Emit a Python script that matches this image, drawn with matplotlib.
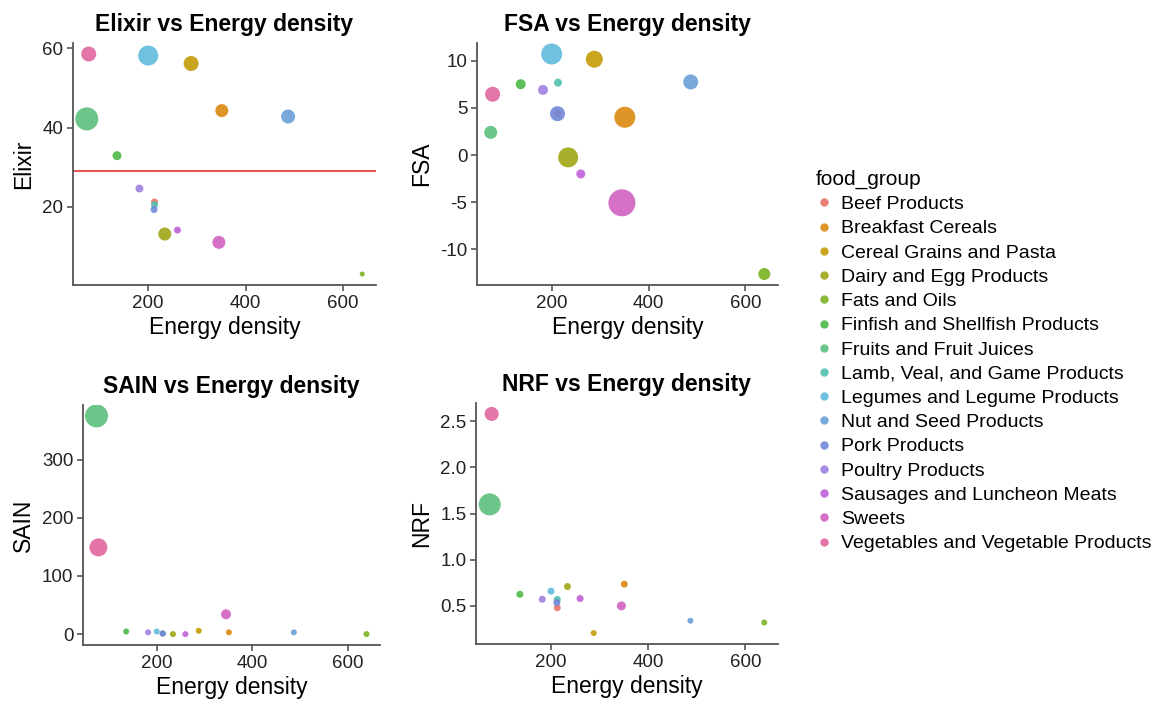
import matplotlib.pyplot as plt
from matplotlib.lines import Line2D

plt.rcParams['font.family'] = ['Liberation Sans', 'DejaVu Sans']
plt.rcParams['axes.unicode_minus'] = False

food_groups = [
    "Beef Products", "Breakfast Cereals", "Cereal Grains and Pasta",
    "Dairy and Egg Products", "Fats and Oils", "Finfish and Shellfish Products",
    "Fruits and Fruit Juices", "Lamb, Veal, and Game Products",
    "Legumes and Legume Products", "Nut and Seed Products", "Pork Products",
    "Poultry Products", "Sausages and Luncheon Meats", "Sweets",
    "Vegetables and Vegetable Products",
]

energy_density = [213, 351, 288, 234, 639, 136, 74, 213, 200, 487, 212, 182, 260, 345, 78]

elixir = [21.2, 44.3, 56.2, 13.1, 3.0, 32.9, 42.2, 20.5, 58.2, 42.8, 19.3, 24.6, 14.1, 11.0, 58.6]
fsa = [4.4, 4.0, 10.15, -0.25, -12.6, 7.5, 2.4, 7.67, 10.7, 7.74, 4.38, 6.9, -2.0, -5.06, 6.44]
sain = [1, 3, 5.7, 0, 0, 4.5, 375, 1, 4.5, 3, 1, 3, 0, 34, 149]
nrf = [0.48, 0.736, 0.206, 0.71, 0.32, 0.626, 1.60, 0.57, 0.66, 0.34, 0.536, 0.572, 0.58, 0.50, 2.58]

# size aesthetic (relative units)
elixir_size = [7, 13, 15, 13, 5, 9, 23, 7, 20, 14, 7, 8, 7, 13, 15]
fsa_size = [8, 21, 17, 20, 12, 10, 13, 8, 21, 15, 15, 10, 9, 27, 15]
sain_size = [6, 6, 6, 6, 6, 6, 23, 6, 6, 6, 6, 6, 6, 10, 18]
nrf_size = [7, 7, 6, 7, 6, 7, 22, 7, 7, 6, 7, 7, 7, 9, 14]

elixir_threshold = 29.1

colors = ["#E8736B", "#DB8A10", "#C49C08", "#A0A515", "#78B220", "#4CB848",
          "#5CBF7C", "#50C0B0", "#60BBDD", "#6A9FD8", "#7088D8", "#A080E0",
          "#C060D8", "#D060C0", "#E066A0"]

W, H = 1171, 707
fig = plt.figure(figsize=(W / 100, H / 100), dpi=100)


def panel(x0, y0, x1, y1):
    return fig.add_axes([x0 / W, 1 - y1 / H, (x1 - x0) / W, (y1 - y0) / H])


panels = [
    (panel(73, 43, 376, 285), elixir, elixir_size, "Elixir", [20, 40, 60]),
    (panel(477, 43, 778, 285), fsa, fsa_size, "FSA", [-10, -5, 0, 5, 10]),
    (panel(83, 405, 380, 645), sain, sain_size, "SAIN", [0, 100, 200, 300]),
    (panel(476, 403, 778, 644), nrf, nrf_size, "NRF", [0.5, 1.0, 1.5, 2.0, 2.5]),
]

for ax, vals, sizes, name, yticks in panels:
    ax.scatter(energy_density, vals, s=[(0.72 * d) ** 2 for d in sizes],
               c=colors, alpha=0.9, edgecolors='none', zorder=3)
    ax.margins(0.05)
    ax.set_xticks([200, 400, 600])
    ax.set_yticks(yticks)
    ax.set_title(f"{name} vs Energy density", fontsize=16.5, fontweight='bold', pad=9)
    ax.set_ylabel(name, fontsize=16.5, labelpad=5)
    ax.set_xlabel("Energy density", fontsize=16.5, labelpad=3)
    for side in ("top", "right"):
        ax.spines[side].set_visible(False)
    for side in ("left", "bottom"):
        ax.spines[side].set_color("#555555")
        ax.spines[side].set_linewidth(1.3)
    ax.tick_params(colors="#555555", labelcolor="#222222", labelsize=13.5,
                   length=4, width=1.2, pad=3)

panels[0][0].axhline(elixir_threshold, color="#EE5555", lw=1.5, zorder=2)

handles = [Line2D([], [], marker='o', linestyle='none', markersize=6,
                  markerfacecolor=c, markeredgecolor='none', alpha=0.9)
           for c in colors]
leg = fig.legend(handles, food_groups, title="food_group", loc='upper left',
                 bbox_to_anchor=(808 / W, 1 - 162 / H), frameon=False,
                 fontsize=14, title_fontsize=15, labelspacing=0.34,
                 handlelength=0.8, handletextpad=0.5, borderaxespad=0)
leg._legend_box.align = "left"

fig.savefig("out.png", dpi=100)
